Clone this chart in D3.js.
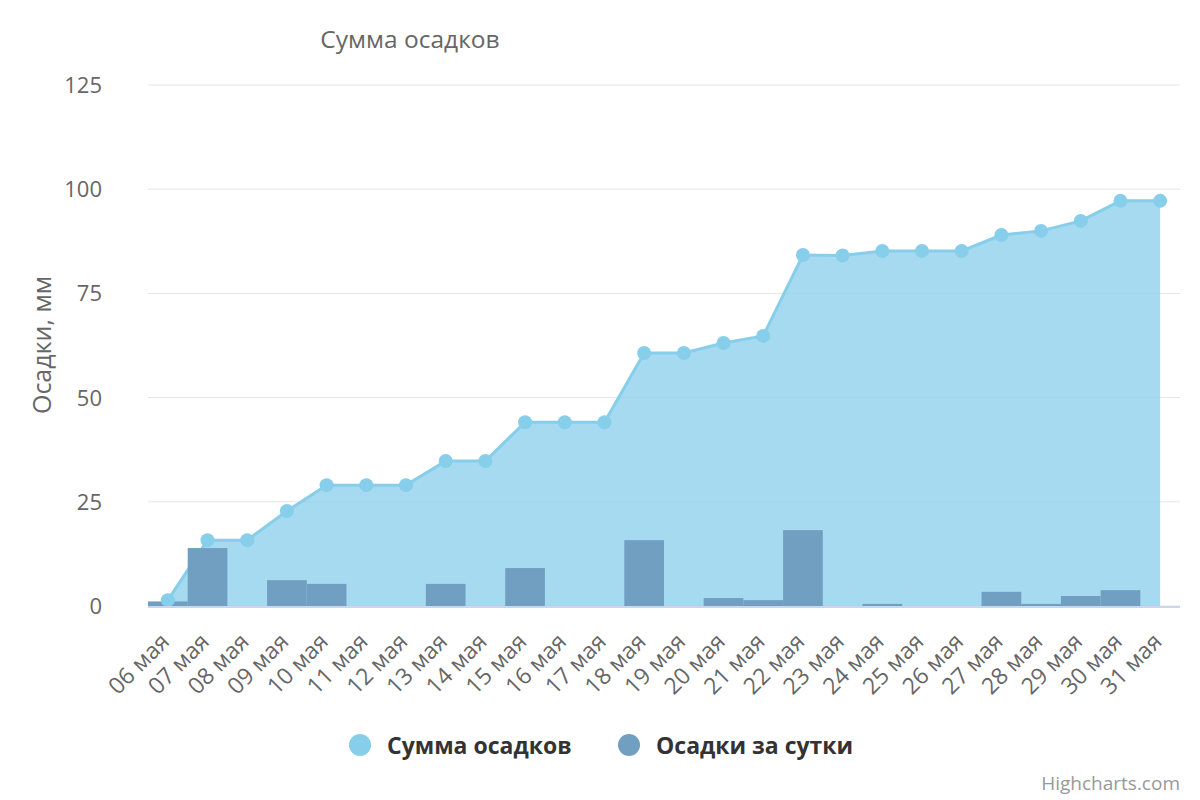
<!DOCTYPE html>
<html><head><meta charset="utf-8">
<script src="https://cdn.jsdelivr.net/npm/d3@7"></script>
<style>
html,body{margin:0;padding:0;background:#fff;}
svg text{font-family:"Open Sans",sans-serif;}
</style></head>
<body><svg id="c" width="1200" height="800"></svg>
<script>
const categories = ["06 мая","07 мая","08 мая","09 мая","10 мая","11 мая","12 мая","13 мая","14 мая","15 мая","16 мая","17 мая","18 мая","19 мая","20 мая","21 мая","22 мая","23 мая","24 мая","25 мая","26 мая","27 мая","28 мая","29 мая","30 мая","31 мая"];
const totalSeries = [1.4,15.8,15.8,22.8,29.0,29.0,29.0,34.8,34.8,44.1,44.1,44.1,60.7,60.7,63.1,64.8,84.2,84.1,85.2,85.2,85.2,89.0,90.0,92.4,97.2,97.2];
const dailySeries = [1.1,13.9,0,6.2,5.3,0,0,5.3,0,9.1,0,0,15.8,0,1.9,1.4,18.2,0,0.5,0,0,3.4,0.5,2.4,3.8,0];
const yTicks = [0,25,50,75,100,125];
const seriesNames = ["Сумма осадков","Осадки за сутки"];
const titleText = "Сумма осадков";
const yTitle = "Осадки, мм";

const svg = d3.select("#c");
const L = 148, R = 1180, T = 85, B = 606;
const x = d3.scaleBand().domain(categories).range([L, R]).padding(0);
const y = d3.scaleLinear().domain([0,125]).range([B, T]);
const cx = d => x(d) + x.bandwidth()/2;
const lineColor = "#87ceeb", barColor = "#719fc2";

// gridlines
svg.append("g").selectAll("line").data(yTicks).join("line")
  .attr("x1", L).attr("x2", R).attr("y1", d=>y(d)).attr("y2", d=>y(d))
  .attr("stroke", "#e6e6e6").attr("stroke-width", 1);

// y labels
svg.append("g").selectAll("text").data(yTicks).join("text")
  .attr("x", 102).attr("y", d=>y(d)).attr("dy","0.36em")
  .attr("text-anchor","end").attr("fill","#666").attr("font-size","22px")
  .text(d=>d);

// area
const pts = categories.map((c,i)=>({c, v: totalSeries[i]}));
svg.append("path").datum(pts)
  .attr("d", d3.area().x(d=>cx(d.c)).y0(y(0)).y1(d=>y(d.v)))
  .attr("fill", lineColor).attr("fill-opacity", 0.75);
svg.append("path").datum(pts)
  .attr("d", d3.line().x(d=>cx(d.c)).y(d=>y(d.v)))
  .attr("fill","none").attr("stroke", lineColor).attr("stroke-width", 3);

// bars
const bars = categories.map((c,i)=>({c, v: dailySeries[i]}));
svg.append("g").selectAll("rect").data(bars.filter(d=>d.v>0)).join("rect")
  .attr("x", d=>x(d.c)).attr("width", x.bandwidth())
  .attr("y", d=>y(d.v)).attr("height", d=>y(0)-y(d.v))
  .attr("fill", barColor);

// markers
svg.append("g").selectAll("circle").data(pts).join("circle")
  .attr("cx", d=>cx(d.c)).attr("cy", d=>y(d.v)).attr("r", 7)
  .attr("fill", lineColor);

// x axis line
svg.append("line").attr("x1", L).attr("x2", R).attr("y1", B+1).attr("y2", B+1)
  .attr("stroke","#ccd6eb").attr("stroke-width",2);

// x labels
svg.append("g").selectAll("text").data(categories).join("text")
  .attr("transform", d=>`translate(${cx(d)+3},${643}) rotate(-45)`)
  .attr("text-anchor","end").attr("fill","#666").attr("font-size","23px")
  .text(d=>d);

// title
svg.append("text").attr("x", 410).attr("y", 48).attr("text-anchor","middle")
  .attr("fill","#666").attr("font-size","24.5px").text(titleText);

// y title
svg.append("text").attr("transform","translate(51,345) rotate(-90)")
  .attr("text-anchor","middle").attr("fill","#666").attr("font-size","25px").text(yTitle);

// legend
const leg = [{n: seriesNames[0], c: lineColor, x: 360},{n: seriesNames[1], c: barColor, x: 629}];
const lg = svg.append("g").selectAll("g").data(leg).join("g");
lg.append("circle").attr("cx", d=>d.x).attr("cy", 745).attr("r", 11).attr("fill", d=>d.c);
lg.append("text").attr("x", d=>d.x+27).attr("y", 754).attr("fill","#333")
  .attr("font-size","23px").attr("font-weight","bold").text(d=>d.n);

// credits
svg.append("text").attr("x", 1180).attr("y", 790).attr("text-anchor","end")
  .attr("fill","#999").attr("font-size","19px").text("Highcharts.com");
</script></body></html>
